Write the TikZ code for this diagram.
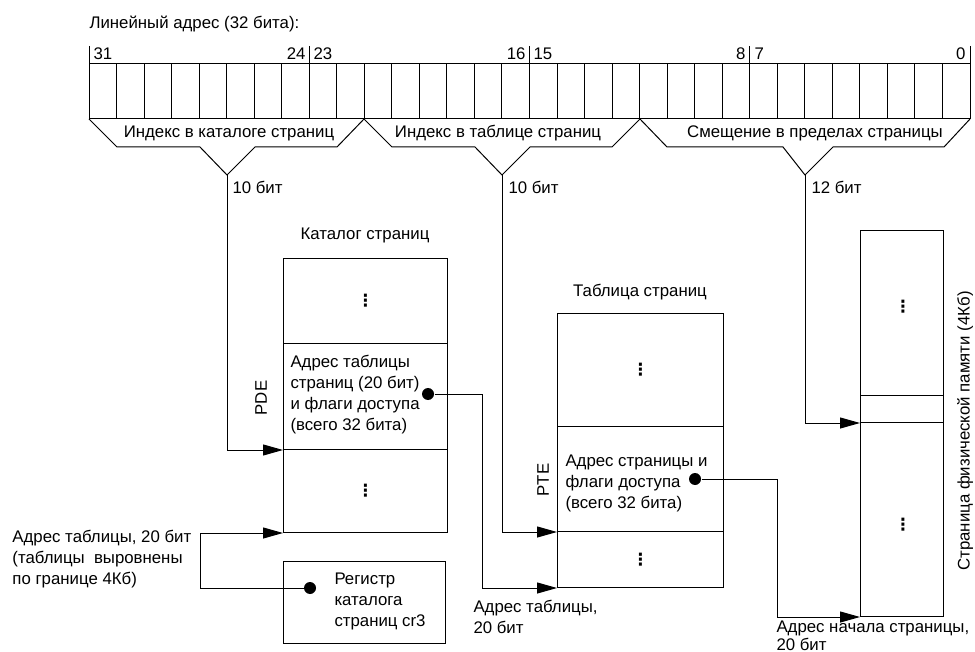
\documentclass[tikz,border=0pt]{standalone}
\usepackage{fontspec}
\setmainfont{Liberation Sans}
\newfontfamily\symfont{DejaVu Sans}
\usepackage{tikz}
\usetikzlibrary{arrows.meta,positioning}
\tikzset{>={Triangle[length=20pt,width=11pt]},
         every picture/.style={line width=1pt},
         every node/.style={font=\fontsize{16.8}{21}\selectfont, inner sep=0pt},
         cell/.style={draw, anchor=north west, minimum width=#1},
         txt/.style={align=left, anchor=west},
         ttl/.style={anchor=center},
         dotmark/.style={circle, fill, minimum size=12pt},
         link/.style={->}}
\newcommand{\vd}{{\symfont\bfseries ⋮}}
\begin{document}
\begin{tikzpicture}[x=1pt,y=-1pt]
	  \useasboundingbox (0,0) rectangle (975,652);
	  % linear address
	  \node[txt] (lintitle) at (89,24) {Линейный адрес (32 бита):};
	  \draw (89,64) rectangle (970,119);
	  \foreach \i in {1,...,31}
	    \draw ({89+\i*27.53125},64) -- ({89+\i*27.53125},119);
	  \foreach \i in {0,8,16,24,32}
	    \draw ({89+\i*27.53125},46) -- ({89+\i*27.53125},64);
	  \node[anchor=west]  (b31) at (93,54) {31};
	  \node[anchor=east]  (b24) at (306,54) {24};
	  \node[anchor=west]  (b23) at (313,54) {23};
	  \node[anchor=east]  (b16) at (526,54) {16};
	  \node[anchor=west]  (b15) at (533,54) {15};
	  \node[anchor=east]  (b8)  at (746,54) {8};
	  \node[anchor=west]  (b7)  at (754,54) {7};
	  \node[anchor=east]  (b0)  at (966,54) {0};

	  % field braces
	  \draw (89,119) -- (117,147) -- (200,147) -- (227,175) -- (255,147)
	        -- (337,147) -- (364,119);
	  \draw (364,119) -- (392,147) -- (475,147) -- (502,175) -- (530,147)
	        -- (612,147) -- (640,119);
	  \draw (640,119) -- (667,147) -- (783,147) -- (805,175) -- (833,147)
	        -- (944,147) -- (970,119);
	  \node[ttl] (fdir) at (229,133) {Индекс в каталоге страниц};
	  \node[ttl] (ftab) at (498,133) {Индекс в таблице страниц};
	  \node[ttl] (foff) at (815,133) {Смещение в пределах страницы};
	  \coordinate (v1) at (227,175);
	  \coordinate (v2) at (502,175);
	  \coordinate (v3) at (805,175);
	  \node[txt] (n1) at (232,187) {10 бит};
	  \node[txt] (n2) at (508,187) {10 бит};
	  \node[txt] (n3) at (811,187) {12 бит};

	  % page directory
	  \node[ttl] (dirtitle) at (365,235) {Каталог страниц};
	  \node[cell=164, minimum height=85] (dir1) at (283,258) {};
	  \node[cell=164, minimum height=106] (dir2) at (283,343) {};
	  \node[cell=164, minimum height=83] (dir3) at (283,449) {};
	  \node (dd1) at (dir1.center) {\vd};
	  \node (dd3) at (dir3.center) {\vd};
	  \node[txt] (pdetxt) at (290,395) {Адрес таблицы\\страниц (20 бит)\\и флаги доступа\\(всего 32 бита)};
	  \node[rotate=90] (pde) at (261,398) {PDE};
	  \node[dotmark] (pdedot) at (428,394) {};

	  % cr3
	  \node[cell=162, minimum height=82] (cr3) at (283,561) {};
	  \node[txt] (crtxt) at (334,601) {Регистр\\каталога\\страниц cr3};
	  \node[dotmark] (crdot) at (310,588) {};
	  \node[txt] (crlbl) at (12,559) {Адрес таблицы, 20 бит\\(таблицы\ \ выровнены\\по границе 4Кб)};

	  % page table
	  \node[ttl] (tabtitle) at (640,292) {Таблица страниц};
	  \node[cell=166, minimum height=113] (tab1) at (557,313) {};
	  \node[cell=166, minimum height=105] (tab2) at (557,426) {};
	  \node[cell=166, minimum height=56] (tab3) at (557,531) {};
	  \node (td1) at (tab1.center) {\vd};
	  \node (td3) at (tab3.center) {\vd};
	  \node[txt] (ptetxt) at (565,483) {Адрес страницы и\\флаги доступа\\(всего 32 бита)};
	  \node[rotate=90] (pte) at (543,480) {PTE};
	  \node[dotmark] (ptedot) at (695,479) {};
	  \node[txt] (tablbl) at (473,617) {Адрес таблицы,\\20 бит};

	  % physical page
	  \node[cell=83, minimum height=165] (pg1) at (860,230) {};
	  \node[cell=83, minimum height=27] (pg2) at (860,395) {};
	  \node[cell=83, minimum height=194] (pg3) at (860,422) {};
	  \node (pd1) at (903,307) {\vd};
	  \node (pd3) at (903,525) {\vd};
	  \node[rotate=90] (pgtitle) at (965,431) {Страница физической памяти (4Кб)};
	  \node[txt, font=\fontsize{16.8}{18}\selectfont] (pglbl) at (776,636) {Адрес начала страницы,\\20 бит};

	  % connectors
	  \coordinate (bend1) at (482,394);
	  \coordinate (bend2) at (777,479);
	  \coordinate (bend3) at (200,588);
	  \draw[link] (v1) |- (dir2.south west);
	  \draw[link] (v2) |- (tab2.south west);
	  \draw[link] (v3) |- (pg2.south west);
	  \draw[link] (pdedot) -- (bend1) |- (tab3.south west);
	  \draw[link] (ptedot) -- (bend2) |- (pg3.south west);
	  \draw[link] (crdot) -- (bend3) |- (dir3.south west);
\end{tikzpicture}
\end{document}
